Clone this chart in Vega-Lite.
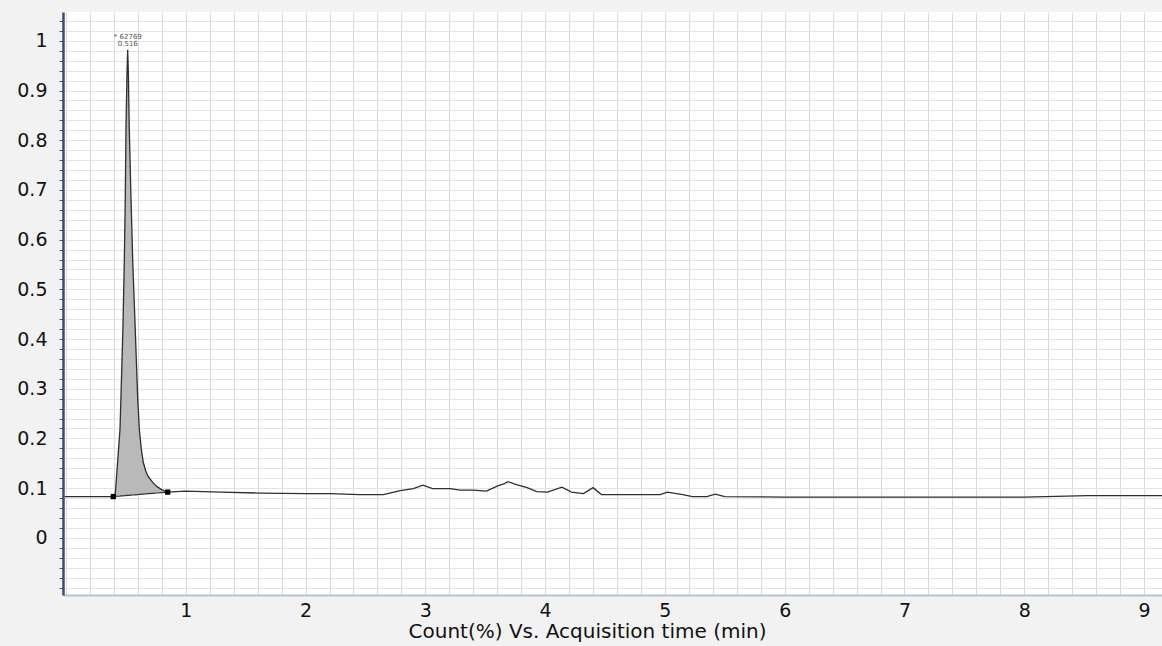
{
  "$schema": "https://vega.github.io/schema/vega-lite/v6.json",
  "width": 1099,
  "height": 583,
  "autosize": {"type": "none"},
  "padding": {"left": 63, "top": 12, "right": 0, "bottom": 51},
  "background": "#f2f2f2",
  "config": {
    "view": {"fill": "#ffffff", "stroke": null},
    "font": "DejaVu Sans",
    "axis": {"labelFont": "DejaVu Sans", "titleFont": "DejaVu Sans"}
  },
  "datasets": {
    "trace": [
      {"time": -0.01, "count": 0.083},
      {"time": 0.2, "count": 0.083},
      {"time": 0.395, "count": 0.083},
      {"time": 0.412, "count": 0.09},
      {"time": 0.43, "count": 0.15},
      {"time": 0.451, "count": 0.219},
      {"time": 0.459, "count": 0.285},
      {"time": 0.475, "count": 0.42},
      {"time": 0.487, "count": 0.557},
      {"time": 0.495, "count": 0.69},
      {"time": 0.501, "count": 0.826},
      {"time": 0.509, "count": 0.93},
      {"time": 0.515, "count": 0.982},
      {"time": 0.521, "count": 0.93},
      {"time": 0.528, "count": 0.826},
      {"time": 0.542, "count": 0.69},
      {"time": 0.557, "count": 0.557},
      {"time": 0.578, "count": 0.42},
      {"time": 0.598, "count": 0.285},
      {"time": 0.612, "count": 0.219},
      {"time": 0.628, "count": 0.18},
      {"time": 0.645, "count": 0.152},
      {"time": 0.665, "count": 0.135},
      {"time": 0.687, "count": 0.123},
      {"time": 0.726, "count": 0.111},
      {"time": 0.76, "count": 0.103},
      {"time": 0.799, "count": 0.097},
      {"time": 0.849, "count": 0.092},
      {"time": 0.92, "count": 0.093},
      {"time": 1.0, "count": 0.094},
      {"time": 1.3, "count": 0.092},
      {"time": 1.62, "count": 0.09},
      {"time": 2.0, "count": 0.089},
      {"time": 2.2, "count": 0.089},
      {"time": 2.45, "count": 0.087},
      {"time": 2.65, "count": 0.087},
      {"time": 2.79, "count": 0.095},
      {"time": 2.9, "count": 0.099},
      {"time": 2.98, "count": 0.106},
      {"time": 3.06, "count": 0.099},
      {"time": 3.21, "count": 0.099},
      {"time": 3.29, "count": 0.096},
      {"time": 3.4, "count": 0.096},
      {"time": 3.51, "count": 0.094},
      {"time": 3.6, "count": 0.104},
      {"time": 3.66, "count": 0.109},
      {"time": 3.69, "count": 0.113},
      {"time": 3.76, "count": 0.107},
      {"time": 3.85, "count": 0.101},
      {"time": 3.93, "count": 0.093},
      {"time": 4.02, "count": 0.092},
      {"time": 4.14, "count": 0.102},
      {"time": 4.22, "count": 0.092},
      {"time": 4.32, "count": 0.089},
      {"time": 4.4, "count": 0.101},
      {"time": 4.47, "count": 0.087},
      {"time": 4.7, "count": 0.087},
      {"time": 4.96, "count": 0.087},
      {"time": 5.02, "count": 0.092},
      {"time": 5.15, "count": 0.087},
      {"time": 5.23, "count": 0.083},
      {"time": 5.35, "count": 0.083},
      {"time": 5.42, "count": 0.088},
      {"time": 5.5, "count": 0.083},
      {"time": 6.0, "count": 0.082},
      {"time": 7.0, "count": 0.082},
      {"time": 8.0, "count": 0.082},
      {"time": 8.53, "count": 0.085},
      {"time": 9.15, "count": 0.085}
    ],
    "peak": [
      {"time": 0.395, "count": 0.083, "base": 0.083},
      {"time": 0.412, "count": 0.09, "base": 0.0833},
      {"time": 0.43, "count": 0.15, "base": 0.0837},
      {"time": 0.451, "count": 0.219, "base": 0.0841},
      {"time": 0.459, "count": 0.285, "base": 0.0843},
      {"time": 0.475, "count": 0.42, "base": 0.0846},
      {"time": 0.487, "count": 0.557, "base": 0.0848},
      {"time": 0.495, "count": 0.69, "base": 0.085},
      {"time": 0.501, "count": 0.826, "base": 0.0851},
      {"time": 0.509, "count": 0.93, "base": 0.0853},
      {"time": 0.515, "count": 0.982, "base": 0.0854},
      {"time": 0.521, "count": 0.93, "base": 0.0855},
      {"time": 0.528, "count": 0.826, "base": 0.0856},
      {"time": 0.542, "count": 0.69, "base": 0.0859},
      {"time": 0.557, "count": 0.557, "base": 0.0862},
      {"time": 0.578, "count": 0.42, "base": 0.0866},
      {"time": 0.598, "count": 0.285, "base": 0.087},
      {"time": 0.612, "count": 0.219, "base": 0.0873},
      {"time": 0.628, "count": 0.18, "base": 0.0876},
      {"time": 0.645, "count": 0.152, "base": 0.088},
      {"time": 0.665, "count": 0.135, "base": 0.0883},
      {"time": 0.687, "count": 0.123, "base": 0.0888},
      {"time": 0.726, "count": 0.111, "base": 0.0896},
      {"time": 0.76, "count": 0.103, "base": 0.0902},
      {"time": 0.799, "count": 0.097, "base": 0.091},
      {"time": 0.849, "count": 0.092, "base": 0.092}
    ],
    "markers": [
      {"time": 0.395, "count": 0.083},
      {"time": 0.849, "count": 0.092}
    ],
    "labels": [
      {"time": 0.516, "count": 1.008, "text": "* 62769"},
      {"time": 0.516, "count": 0.993, "text": "0.516"}
    ]
  },
  "encoding": {
    "x": {
      "field": "time",
      "type": "quantitative",
      "scale": {"domain": [-0.025, 9.15], "nice": false, "zero": false},
      "axis": {
        "title": "Count(%) Vs. Acquisition time (min)",
        "titleFontSize": 20,
        "titleFontWeight": "normal",
        "titleColor": "#111111",
        "titlePadding": 1,
        "titleX": 524,
        "values": [0, 0.2, 0.4, 0.6, 0.8, 1, 1.2, 1.4, 1.6, 1.8, 2, 2.2, 2.4, 2.6, 2.8, 3, 3.2, 3.4, 3.6, 3.8, 4, 4.2, 4.4, 4.6, 4.8, 5, 5.2, 5.4, 5.6, 5.8, 6, 6.2, 6.4, 6.6, 6.8, 7, 7.2, 7.4, 7.6, 7.8, 8, 8.2, 8.4, 8.6, 8.8, 9],
        "labelExpr": "datum.value > 0.99 && abs(datum.value - round(datum.value)) < 0.001 ? format(datum.value, 'd') : ''",
        "labelFontSize": 19,
        "labelColor": "#111111",
        "labelPadding": 6,
        "labelOverlap": false,
        "labelBound": false,
        "labelFlush": false,
        "ticks": false,
        "grid": true,
        "gridColor": "#dadada",
        "gridWidth": 1,
        "domainColor": "#b4c2d8",
        "domainWidth": 2
      }
    },
    "y": {
      "field": "count",
      "type": "quantitative",
      "scale": {"domain": [-0.115, 1.058], "nice": false, "zero": false},
      "axis": {
        "title": null,
        "values": [-0.1, -0.08, -0.06, -0.04, -0.02, 0, 0.02, 0.04, 0.06, 0.08, 0.1, 0.12, 0.14, 0.16, 0.18, 0.2, 0.22, 0.24, 0.26, 0.28, 0.3, 0.32, 0.34, 0.36, 0.38, 0.4, 0.42, 0.44, 0.46, 0.48, 0.5, 0.52, 0.54, 0.56, 0.58, 0.6, 0.62, 0.64, 0.66, 0.68, 0.7, 0.72, 0.74, 0.76, 0.78, 0.8, 0.82, 0.84, 0.86, 0.88, 0.9, 0.92, 0.94, 0.96, 0.98, 1, 1.02, 1.04],
        "labelExpr": "datum.value > -0.001 && abs(datum.value * 10 - round(datum.value * 10)) < 0.01 ? format(datum.value, '.1~f') : ''",
        "labelFontSize": 19,
        "labelColor": "#111111",
        "labelPadding": 12,
        "labelOverlap": false,
        "labelBound": false,
        "labelFlush": false,
        "ticks": true,
        "tickSize": 4,
        "tickColor": "#555555",
        "grid": true,
        "gridColor": "#e4e4e4",
        "gridWidth": 1,
        "domainColor": "#3a4a78",
        "domainWidth": 2.5
      }
    }
  },
  "layer": [
    {
      "data": {"name": "peak"},
      "mark": {"type": "area", "color": "#b9b9b9", "opacity": 1},
      "encoding": {"y2": {"field": "base"}}
    },
    {
      "data": {"name": "peak"},
      "mark": {"type": "line", "color": "#333333", "strokeWidth": 1.2},
      "encoding": {"y": {"field": "base", "type": "quantitative"}}
    },
    {
      "data": {"name": "trace"},
      "mark": {"type": "line", "color": "#2e2e2e", "strokeWidth": 1.3}
    },
    {
      "data": {"name": "markers"},
      "mark": {"type": "square", "color": "#000000", "filled": true, "opacity": 1, "size": 28}
    },
    {
      "data": {"name": "labels"},
      "mark": {"type": "text", "fontSize": 7, "color": "#555555", "align": "center", "baseline": "middle"},
      "encoding": {"text": {"field": "text"}}
    }
  ]
}
